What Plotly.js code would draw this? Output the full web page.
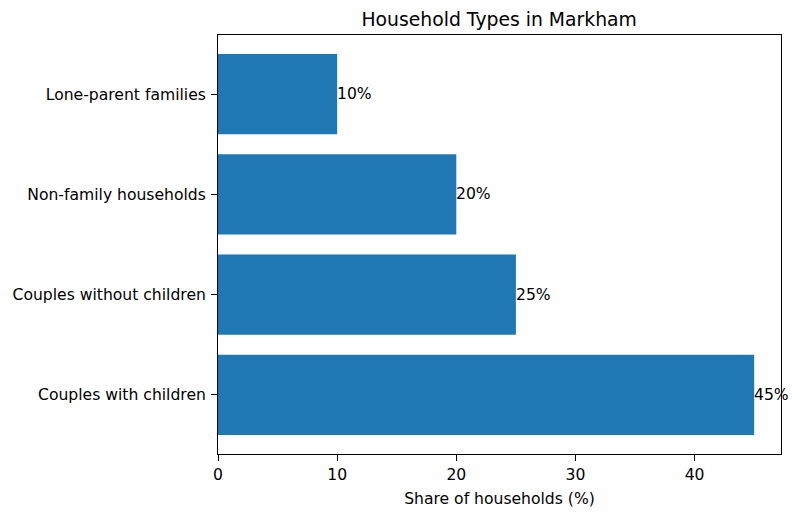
<!DOCTYPE html>
<html>
<head>
<meta charset="utf-8">
<script src="https://cdn.plot.ly/plotly-3.0.1.min.js"></script>
<style>body{margin:0;background:#fff}#myDiv{width:800px;height:515px}</style>
</head>
<body>
<div id="myDiv"></div>
<script>
var categories = ['Couples with children', 'Couples without children', 'Non-family households', 'Lone-parent families'];
var shares = [45, 25, 20, 10];
var shareLabels = ['45%', '25%', '20%', '10%'];

var font = {family: 'DejaVu Sans, sans-serif', size: 15.6, color: '#000'};

var trace = {
  type: 'bar',
  orientation: 'h',
  x: shares,
  y: categories,
  width: 0.8,
  marker: {color: '#1f77b4'},
  hoverinfo: 'none'
};

var notes = shares.map(function (v, i) {
  return {
    x: v, y: categories[i], text: shareLabels[i],
    xanchor: 'left', yanchor: 'middle', xshift: -2,
    showarrow: false, font: font
  };
});

var layout = {
  width: 800,
  height: 515,
  margin: {l: 218, r: 19, t: 35, b: 61},
  paper_bgcolor: '#fff',
  plot_bgcolor: '#fff',
  font: font,
  showlegend: false,
  title: {text: 'Household Types in Markham', font: {family: 'DejaVu Sans, sans-serif', size: 18.8, color: '#000'}, x: 0.624, xanchor: 'center', y: 0.963, yanchor: 'middle'},
  xaxis: {
    range: [0, 47.25],
    tickvals: [0, 10, 20, 30, 40],
    ticks: 'outside', ticklen: 6, tickcolor: '#000', tickwidth: 1,
    showline: true, linecolor: '#000', linewidth: 1, mirror: true,
    showgrid: false, zeroline: false,
    tickfont: font,
    title: {text: 'Share of households (%)', font: font, standoff: 10}
  },
  yaxis: {
    range: [-0.59, 3.59],
    ticks: 'outside', ticklen: 6, tickcolor: '#000', tickwidth: 1,
    ticklabelstandoff: 2,
    showline: true, linecolor: '#000', linewidth: 1, mirror: true,
    showgrid: false, zeroline: false,
    tickfont: font
  },
  annotations: notes
};

Plotly.newPlot('myDiv', [trace], layout, {staticPlot: true});
</script>
</body>
</html>
